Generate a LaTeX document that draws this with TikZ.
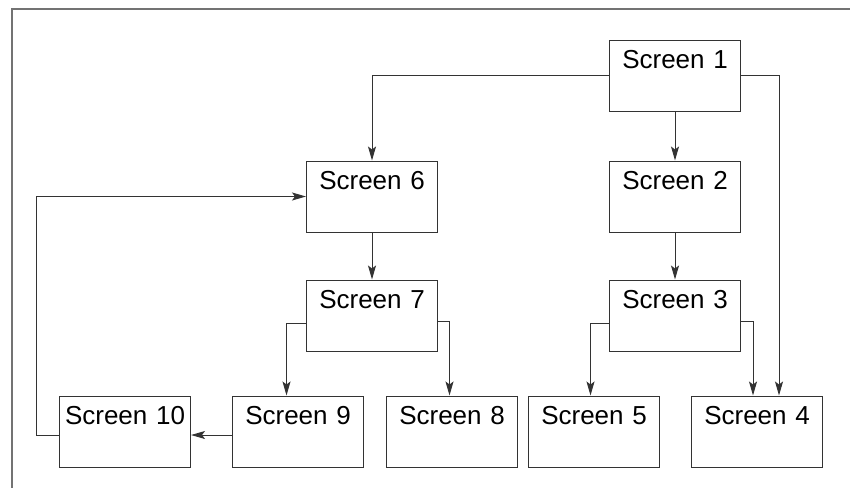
\documentclass[tikz,border=0pt]{standalone}
\usepackage{fontspec}
\setmainfont{Liberation Sans}
\usetikzlibrary{arrows.meta,positioning}

\begin{document}
\begin{tikzpicture}[x=1pt,y=-1pt,->,>={Stealth[length=14pt,width=8pt,inset=3pt]},
  line width=1pt,draw=black!80,node distance=47pt,
  screen node/.style={rectangle,draw,inner sep=0pt,text width=131pt,align=center,
    text height=28pt,text depth=43pt,font=\fontsize{26}{30}\selectfont}]
    \useasboundingbox (0,0) rectangle (850,488);
    \draw[-,black!55,line width=1.5pt] (850,9) -- (12,9) -- (12,488);
    \node[screen node] (s1) at (675,75.5) {Screen 1};
    \node[screen node,below=49pt of s1] (s2) {Screen 2};
    \node[screen node,below=of s2] (s3) {Screen 3};
    \node[screen node,left=171pt of s2] (s6) {Screen 6};
    \node[screen node,below=of s6] (s7) {Screen 7};
    \node[screen node,below=44pt of s3,xshift=82pt] (s4) {Screen 4};
    \node[screen node,left=31pt of s4] (s5) {Screen 5};
    \node[screen node,left=10pt of s5] (s8) {Screen 8};
    \node[screen node,left=22pt of s8] (s9) {Screen 9};
    \node[screen node,left=41pt of s9] (s10) {Screen 10};
    \draw (s1.west) -| (s6.north);
    \draw (s1) -- (s2);
    \draw (s1.east) -| ([xshift=22pt]s4.north);
    \draw (s2) -- (s3);
    \draw (s6) -- (s7);
    \draw ([yshift=-7.5pt]s3.west) -| ([xshift=-3.5pt]s5.north);
    \draw ([yshift=-5.5pt]s3.east) -| ([xshift=-4pt]s4.north);
    \draw ([yshift=-7.5pt]s7.west) -| ([xshift=-11.5pt]s9.north);
    \draw ([yshift=-5.5pt]s7.east) -| ([xshift=-2.5pt]s8.north);
    \draw ([yshift=-3.5pt]s9.west) -- ([yshift=-3.5pt]s10.east);
    \draw ([yshift=-3.5pt]s10.west) -- ++(-23pt,0) |- (s6.west);
\end{tikzpicture}
\end{document}
